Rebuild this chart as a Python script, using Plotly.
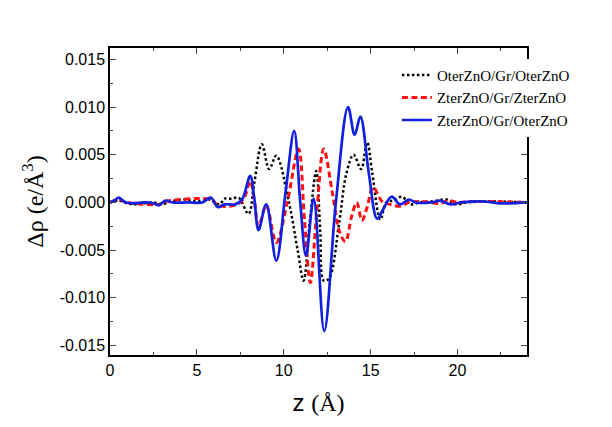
import plotly.graph_objs as go

# charge density difference along z
z_oter = [0, 0.5, 1.0, 1.5, 2.5, 3.0, 3.5, 4.3, 5.0, 5.8, 6.3, 6.6, 7.0, 7.4, 7.97, 8.3, 8.74, 9.16, 9.57,
          10.3, 10.8, 11.14, 11.5, 11.87, 12.1, 12.3, 12.6, 13.2, 13.6, 14.02, 14.45, 14.8, 15.1, 15.56,
          15.9, 16.3, 16.8, 17.3, 17.8, 18.5, 19.4, 19.9, 20.5, 22, 24]
d_oter = [0, 0.0002, -0.0001, -0.0002, 0.0, -0.0002, 0.0001, 0.0003, 0.0001, 0.0003, -0.0002, 0.0004, 0.0004,
          0.0005, -0.0012, 0.002, 0.0061, 0.0035, 0.0049, 0.0, -0.005, -0.0082, -0.002, 0.0033, -0.003, -0.0082,
          -0.008, -0.002, 0.003, 0.0050, 0.0035, 0.0063, 0.003, -0.0018, 0.0, 0.0002, 0.0006, -0.0002, 0.0,
          0.0001, 0.0003, -0.0002, 0.0, 0.0001, 0]

z_zter = [0, 0.5, 1.0, 2.8, 3.2, 5.8, 6.2, 6.8, 7.3, 7.7, 8.07, 8.3, 8.55, 8.99, 9.57, 10.2, 10.85, 11.2, 11.53,
          11.9, 12.3, 12.8, 13.2, 13.55, 13.9, 14.2, 14.5, 14.8, 15.14, 15.66, 16.1, 16.7, 17.2, 18.0, 19.0,
          19.5, 20.0, 21, 24]
d_zter = [0, 0.0003, 0.0, -0.0002, 0.0001, 0.0003, -0.0003, -0.0004, -0.0002, 0.0004, 0.0022, 0.0003, -0.0025,
          -0.0003, -0.0042, 0.0, 0.0056, -0.002, -0.0084, -0.001, 0.0056, 0.001, -0.003, -0.0041, -0.0015, 0.0,
          -0.0019, -0.0005, 0.0016, 0.0001, -0.0002, -0.0004, 0.0, 0.0001, -0.0001, 0.0002, 0.0, 0.0001, 0]

z_mix = [0.0, 0.25, 0.5, 0.8, 1.2, 2.0, 2.5, 2.8, 3.2, 3.6, 4.5, 5.3, 5.8, 6.2, 6.6, 7.2, 7.6, 8.07, 8.3, 8.55,
         8.99, 9.57, 10.1, 10.6, 10.95, 11.28, 11.72, 12.33, 13.0, 13.7, 14.08, 14.41, 14.9, 15.37, 15.7, 16.2,
         16.7, 17.2, 17.6, 18.5, 19.0, 19.6, 20.2, 21.5, 22.5, 24]
d_mix = [0.0, 0.0002, 0.0005, 0.0001, -0.0001, 0.0, -0.0001, -0.0003, 0.0002, 0.0, 0.0, 0.0, 0.0005, -0.0005,
         -0.0002, -0.0002, 0.0003, 0.0028, 0.0005, -0.0029, -0.0002, -0.0061, 0.001, 0.0075, 0.0, -0.0056, 0.0004,
         -0.0135, 0.0, 0.0100, 0.0071, 0.0090, 0.003, -0.0017, -0.0008, 0.0006, -0.0002, 0.0003, 0.0, 0.0,
         0.0002, -0.0002, 0.0, 0.0001, -0.0001, 0.0]

ytick_vals = [-0.015, -0.010, -0.005, 0.000, 0.005, 0.010, 0.015]
ytick_text = ["-0.015", "-0.010", "-0.005", "0.000", "0.005", "0.010", "0.015"]

data = []
data.append(go.Scatter(x=z_oter, y=d_oter, mode='lines', name="OterZnO/Gr/OterZnO",
                       line=dict(color="black", width=2.5, dash='2.5px,2.5px', shape='spline', smoothing=1.0)))
data.append(go.Scatter(x=z_zter, y=d_zter, mode='lines', name="ZterZnO/Gr/ZterZnO",
                       line=dict(color="#ff1010", width=3, dash='6px,3.5px', shape='spline', smoothing=1.0)))
data.append(go.Scatter(x=z_mix, y=d_mix, mode='lines', name="ZterZnO/Gr/OterZnO",
                       line=dict(color="#1020e0", width=2.7, shape='spline', smoothing=1.0)))

fig = go.Figure(data)
fig.update_layout(
    width=612, height=427,
    margin=dict(l=102, r=93, t=40, b=80),
    paper_bgcolor='white',
    plot_bgcolor='white',
    font=dict(family="Liberation Sans, Arial", color="black", size=16),
    legend=dict(x=0.688, y=0.965, xanchor='left', yanchor='top', bgcolor='white',
                font=dict(family="Liberation Serif, Times New Roman", size=15),
                itemwidth=30, tracegroupgap=0),
    xaxis=dict(range=[0, 24], tickvals=[0, 5, 10, 15, 20], ticks='inside', ticklen=6,
               minor=dict(dtick=2.5, ticks='inside', ticklen=3, tick0=0),
               showline=True, linecolor='black', linewidth=1.5, mirror='ticks',
               showgrid=False, zeroline=False,
               title=dict(text="z <span style='font-family:Liberation Serif'>(Å)</span>",
                          font=dict(size=24), standoff=16)),
    yaxis=dict(range=[-0.016, 0.0162], tickvals=ytick_vals, ticktext=ytick_text, ticks='inside', ticklen=6,
               minor=dict(dtick=0.0025, ticks='inside', ticklen=3, tick0=0),
               showline=True, linecolor='black', linewidth=1.5, mirror='ticks',
               showgrid=False, zeroline=False,
               title=dict(text="Δρ (e/Å<sup>3</sup>)", font=dict(family="Liberation Serif, Times New Roman", size=24),
                          standoff=9)),
)
fig.write_html("out.html")
